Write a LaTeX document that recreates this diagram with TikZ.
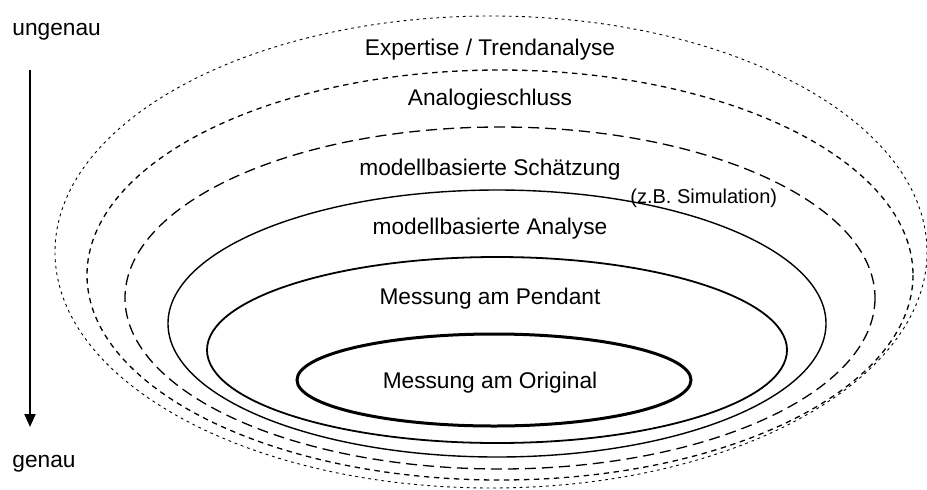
\documentclass[tikz,border=0pt]{standalone}
\usepackage{fontspec}
\setmainfont{Liberation Sans}
\usetikzlibrary{arrows.meta,positioning}

\begin{document}
\begin{tikzpicture}
		[x=0.5pt,y=-0.5pt,
		main text/.style={font=\fontsize{11.35}{13.6}\selectfont,inner sep=0pt},
		small text/.style={font=\fontsize{10}{12}\selectfont,inner sep=0pt},
		fine dots/.style={line width=0.45pt,dash pattern=on 1.4pt off 1.9pt},
		mid dashes/.style={line width=0.65pt,dash pattern=on 2.7pt off 2.3pt},
		long dashes/.style={line width=0.65pt,dash pattern=on 5.5pt off 3pt}]
		\useasboundingbox (0,0) rectangle (927,489);
		
		\draw [fine dots] (491,252) ellipse [x radius=436, y radius=236];
		\draw [mid dashes] (500,275) ellipse [x radius=413, y radius=205];
		\draw [long dashes] (500,298) ellipse [x radius=375, y radius=171];
		\draw [line width=0.7pt] (497,323.5) ellipse [x radius=329, y radius=133.5];
		\draw [line width=0.9pt] (497,350) ellipse [x radius=290, y radius=93];
		\draw [line width=1.5pt] (494,380) ellipse [x radius=197, y radius=46];
		
		\node [main text,anchor=base] (expertise) at (490,55) {Expertise / Trendanalyse};
		\node [main text,anchor=base] (analogie) at (490,105) {Analogieschluss};
		\node [main text,anchor=base] (schaetzung) at (490,175) {modellbasierte Schätzung};
		\node [small text,anchor=base west] (simulation) at (630,203) {(z.B. Simulation)};
		\node [main text,anchor=base] (analyse) at (490,234) {modellbasierte Analyse};
		\node [main text,anchor=base] (pendant) at (490,304) {Messung am Pendant};
		\node [main text,anchor=base] (original) at (490,388) {Messung am Original};
		
		\node [main text,anchor=base west] (ungenau) at (12,35) {ungenau};
		\node [main text,anchor=base west] (genau) at (12,467) {genau};
		
		\coordinate (pfeil oben) at (30,70);
		\coordinate (pfeil unten) at (30,427);
		\draw [line width=1pt,-{Triangle[width=5.5pt,length=6.5pt]}] (pfeil oben) -- (pfeil unten);
		
\end{tikzpicture}
\end{document}
